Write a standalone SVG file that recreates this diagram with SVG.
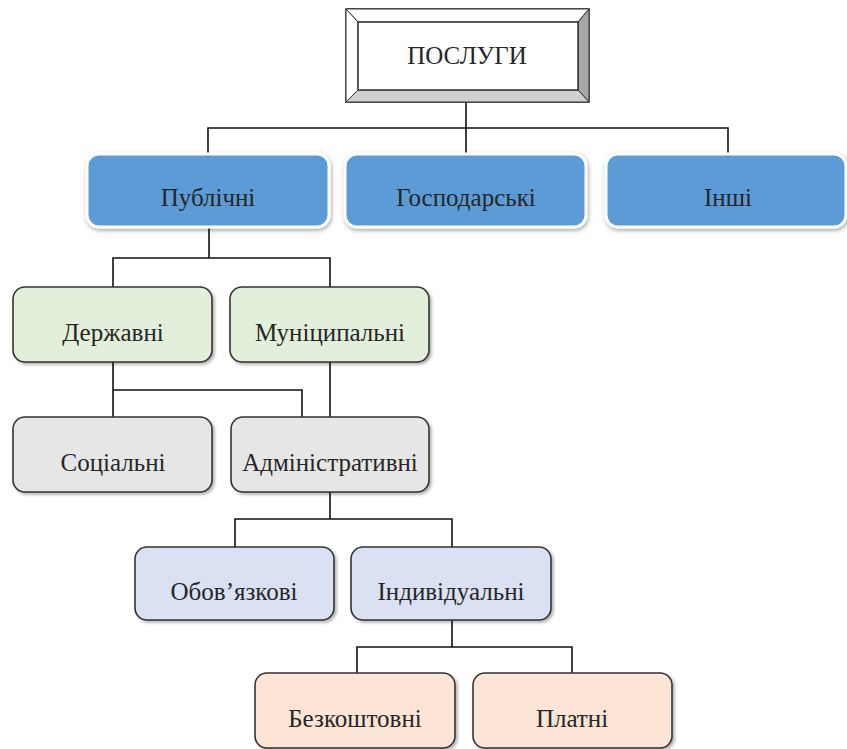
<svg xmlns="http://www.w3.org/2000/svg" width="847" height="749" viewBox="0 0 847 749">
<defs>
<filter id="sh" x="-10%" y="-10%" width="125%" height="130%">
<feDropShadow dx="2" dy="2" stdDeviation="1.5" flood-color="#000" flood-opacity="0.3"/>
</filter>
<filter id="glow" x="-10%" y="-10%" width="125%" height="130%">
<feDropShadow dx="1" dy="2" stdDeviation="2" flood-color="#000" flood-opacity="0.35"/>
</filter>
</defs>
<style>
text{font-family:"Liberation Serif","Times New Roman",serif;font-size:25px;fill:#262626;text-anchor:middle}
.blue{fill:#5B9BD5;stroke:#fff;stroke-width:3;filter:url(#glow)}
.green{fill:#E2EFDA;stroke:#333;stroke-width:1.6;filter:url(#sh)}
.gray{fill:#E6E6E6;stroke:#333;stroke-width:1.6;filter:url(#sh)}
.lav{fill:#D9E1F2;stroke:#333;stroke-width:1.6;filter:url(#sh)}
.peach{fill:#FCE4D6;stroke:#333;stroke-width:1.6;filter:url(#sh)}
#connectors path{fill:none;stroke:#111;stroke-width:1.6}
</style>
<rect width="847" height="749" fill="#fff"/>
<g id="connectors">
<path d="M466 101V128M208 155V128H728V155M466 128V155"/>
<path d="M209 227V258M113 287V258H330V287"/>
<path d="M113 362V417M113 390H302V417M330 362V417"/>
<path d="M330 492V519M235 547V519H452V547"/>
<path d="M452 620V647M357 673V647H572V673"/>
</g>
<g id="root">
<rect x="346" y="9" width="243" height="93" fill="#fff" stroke="#333" stroke-width="1.5"/>
<polygon points="346,9 589,9 578,22 358,22" fill="#fff" stroke="#333" stroke-width="1"/>
<polygon points="346,9 358,22 358,90 346,102" fill="#fff" stroke="#333" stroke-width="1"/>
<polygon points="589,9 589,102 578,90 578,22" fill="#a6a6a6" stroke="#333" stroke-width="1"/>
<polygon points="346,102 358,90 578,90 589,102" fill="#d0d0d0" stroke="#333" stroke-width="1"/>
<rect x="358" y="22" width="220" height="68" fill="#fff" stroke="#333" stroke-width="1.5"/>
<text x="467" y="64">ПОСЛУГИ</text>
</g>
<g id="n-public"><rect class="blue" x="87" y="154" width="242" height="73" rx="12"/><text x="208" y="206">Публічні</text></g>
<g id="n-gosp"><rect class="blue" x="345" y="154" width="241" height="73" rx="12"/><text x="466" y="206">Господарські</text></g>
<g id="n-inshi"><rect class="blue" x="606" y="154" width="240" height="73" rx="12"/><text x="728" y="206">Інші</text></g>
<g id="n-derzh"><rect class="green" x="13" y="287" width="199" height="75" rx="12"/><text x="113" y="341">Державні</text></g>
<g id="n-munic"><rect class="green" x="230" y="287" width="199" height="75" rx="12"/><text x="330" y="341">Муніципальні</text></g>
<g id="n-social"><rect class="gray" x="13" y="417" width="199" height="75" rx="12"/><text x="113" y="471">Соціальні</text></g>
<g id="n-admin"><rect class="gray" x="231" y="417" width="198" height="75" rx="12"/><text x="330" y="471">Адміністративні</text></g>
<g id="n-oboviaz"><rect class="lav" x="135" y="547" width="199" height="73" rx="12"/><text x="234" y="600">Обов’язкові</text></g>
<g id="n-indyv"><rect class="lav" x="351" y="547" width="200" height="73" rx="12"/><text x="451" y="600">Індивідуальні</text></g>
<g id="n-bezk"><rect class="peach" x="255" y="673" width="200" height="75" rx="12"/><text x="355" y="727">Безкоштовні</text></g>
<g id="n-platni"><rect class="peach" x="473" y="673" width="199" height="75" rx="12"/><text x="572" y="727">Платні</text></g>
</svg>
